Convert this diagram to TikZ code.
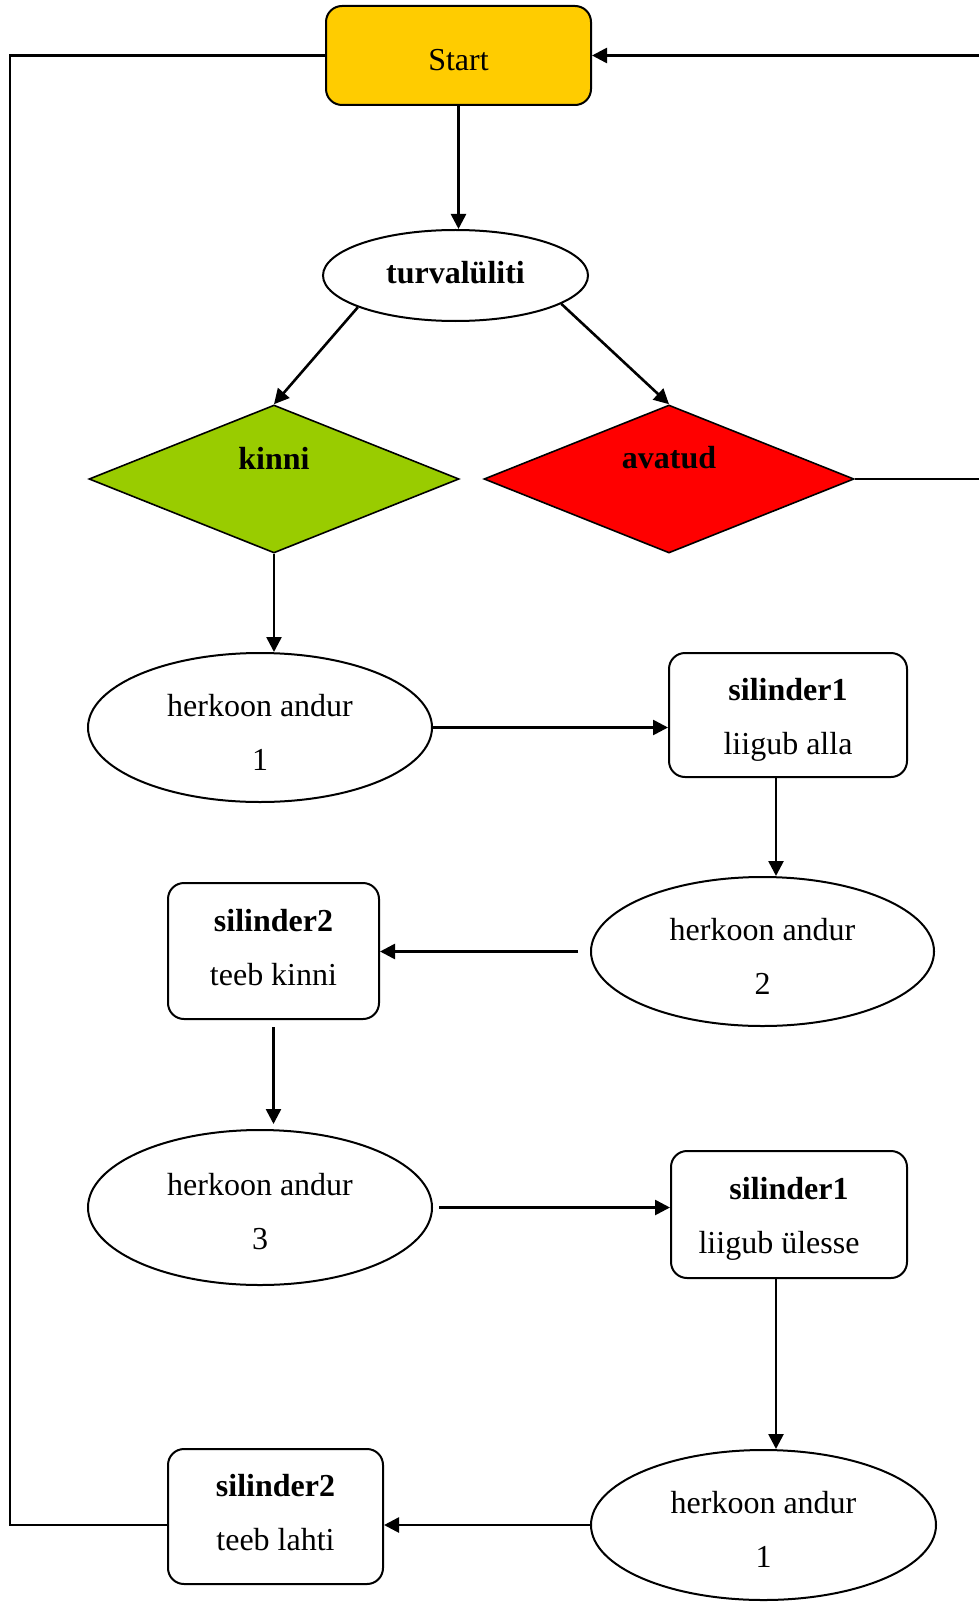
\documentclass[tikz,border=0pt]{standalone}
\usepackage{fontspec}
\setmainfont{Liberation Serif}
\usetikzlibrary{shapes.geometric,arrows.meta}
\definecolor{startyellow}{HTML}{FFCC00}
\definecolor{kinnigreen}{HTML}{99CC00}
\definecolor{avatudred}{HTML}{FF0000}
\newcommand{\tstrut}{\rule{0pt}{31pt}}
\newcommand{\dstrut}[1]{\rule[-#1]{0pt}{0pt}}
\begin{document}
\begin{tikzpicture}[x=1pt,y=-1pt,
  txt/.style={font=\fontsize{32}{54}\selectfont, align=center},
  ell/.style={ellipse, draw, line width=2pt, inner sep=0pt, txt},
  rbox/.style={rectangle, rounded corners=16pt, draw, line width=2pt, inner sep=0pt, txt},
  diam/.style={diamond, draw, line width=1.6pt, inner sep=0pt},
  conn/.style={line width=2.6pt, -{Triangle[length=15pt,width=15pt]}},
  plainconn/.style={line width=2.2pt}
]
\useasboundingbox (0,0) rectangle (978,1602);

\node[rbox, fill=startyellow, minimum width=265pt, minimum height=99pt] (start) at (458.5,55.5) {\tstrut Start};
\node[ell, minimum width=265pt, minimum height=91pt] (turv) at (455.5,275.5) {\bfseries turvalüliti\dstrut{6pt}};
\node[diam, fill=kinnigreen, minimum width=370pt, minimum height=148pt] (kinni) at (274,479) {};
\node[txt, font=\fontsize{32}{54}\selectfont\bfseries] (kinnitxt) at (274,458) {kinni};
\node[diam, fill=avatudred, minimum width=370pt, minimum height=148pt] (avatud) at (669,479) {};
\node[txt, font=\fontsize{32}{54}\selectfont\bfseries] (avatudtxt) at (669,458) {avatud};

\node[ell, minimum width=344pt, minimum height=149pt] (herk1) at (260,727.5) {\tstrut herkoon andur\\1};
\node[rbox, minimum width=238pt, minimum height=124pt] (sil1) at (788,715) {\tstrut\bfseries silinder1\\liigub alla};
\node[ell, minimum width=343pt, minimum height=149pt] (herk2) at (762.5,951.5) {\tstrut herkoon andur\\2};
\node[rbox, minimum width=211pt, minimum height=136pt] (sil2a) at (273.5,951) {\bfseries silinder2\\teeb kinni\dstrut{8pt}};
\node[ell, minimum width=344pt, minimum height=155pt] (herk3) at (260,1207.5) {\tstrut herkoon andur\\3};
\node[rbox, minimum width=236pt, minimum height=127pt] (sil1b) at (789,1214.5) {\tstrut\bfseries silinder1\\liigub ülesse\hspace*{20pt}};
\node[ell, minimum width=345pt, minimum height=150pt] (herk1b) at (763.5,1525) {\tstrut herkoon andur\\1};
\node[rbox, minimum width=215pt, minimum height=135pt] (sil2b) at (275.5,1516.5) {\bfseries silinder2\\teeb lahti\dstrut{8pt}};

\coordinate (L1) at (10,1525);
\coordinate (L2) at (10,55.5);
\coordinate (R1) at (990,479);
\coordinate (R2) at (990,55.5);

\draw[conn] (start.south) -- (start.south |- turv.north);
\draw[conn] (turv.198) -- (kinni.north);
\draw[conn] (turv.345) -- (avatud.north);
\draw[conn] (kinni.south) -- (kinni.south |- herk1.north);
\draw[conn] (herk1.east) -- (herk1.east -| sil1.west);
\draw[conn] ([xshift=-12pt]sil1.south) -- ([xshift=-12pt]sil1.south |- herk2.north);
\draw[conn] ([xshift=-12pt]herk2.west) -- (herk2.west -| sil2a.east);
\draw[conn] ([yshift=-7pt]sil2a.south) -- ([yshift=5pt]sil2a.south |- herk3.north);
\draw[conn] ([xshift=6pt]herk3.east) -- (herk3.east -| sil1b.west);
\draw[conn] ([xshift=-13pt]sil1b.south) -- ([xshift=-13pt]sil1b.south |- herk1b.north);
\draw[conn] (herk1b.west) -- (herk1b.west -| sil2b.east);
\draw[plainconn] (herk1b.west -| sil2b.west) -- (L1) -- (L2) -- (start.west);
\draw[conn] (avatud.east) -- (R1) -- (R2) -- (start.east);
\end{tikzpicture}
\end{document}
